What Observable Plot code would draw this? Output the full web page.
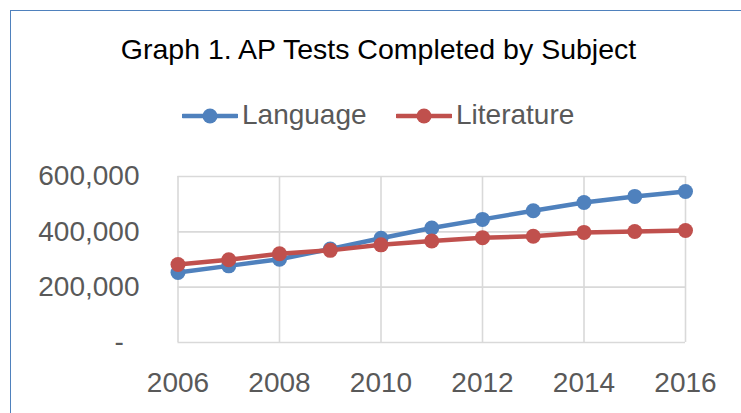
<!DOCTYPE html>
<html>
<head>
<meta charset="utf-8">
<script src="https://cdn.jsdelivr.net/npm/d3@7"></script>
<script src="https://cdn.jsdelivr.net/npm/@observablehq/plot@0.6"></script>
<style>
  html, body { margin: 0; padding: 0; background: #fff; }
  body { width: 741px; height: 413px; position: relative; overflow: hidden; font-family: "Liberation Sans", Arial, sans-serif; }
  #frame { position: absolute; left: 10px; top: 10px; width: 900px; height: 600px; border: 1.5px solid #4f81bd; box-sizing: border-box; }
  #title { position: absolute; left: 0; width: 757px; top: 35.2px; text-align: center; font-size: 28.5px; line-height: 28.5px; color: #000; white-space: nowrap; }
  .leg { position: absolute; font-size: 28px; line-height: 28px; color: #595959; white-space: nowrap; }
  .mk { position: absolute; }
  #chart { position: absolute; left: 0; top: 140px; }
</style>
</head>
<body>
<div id="frame"></div>
<div id="title">Graph 1. AP Tests Completed by Subject</div>
<div id="legend"></div>
<div id="chart"></div>
<script>
const years = [2006, 2007, 2008, 2009, 2010, 2011, 2012, 2013, 2014, 2015, 2016];
const language = [253000, 277000, 301000, 338000, 377000, 414000, 445000, 476000, 506000, 528000, 546000];
const literature = [282000, 299000, 321000, 333000, 353000, 367000, 379000, 384000, 398000, 401000, 405000];
const seriesNames = ["Language", "Literature"];
const seriesColors = ["#4f81bd", "#c0504d"];
const xTicks = [2006, 2008, 2010, 2012, 2014, 2016];
const yTicks = [0, 200000, 400000, 600000];

const rows = [];
years.forEach((y, i) => {
  rows.push({year: y, value: language[i], series: seriesNames[0]});
});
years.forEach((y, i) => {
  rows.push({year: y, value: literature[i], series: seriesNames[1]});
});
const lang = rows.filter(d => d.series === seriesNames[0]);
const lit = rows.filter(d => d.series === seriesNames[1]);

// Legend (HTML, above the plot)
const legend = document.getElementById("legend");
const legPos = [{m: 182, t: 242}, {m: 396, t: 456}];
seriesNames.forEach((name, i) => {
  const svgNS = "http://www.w3.org/2000/svg";
  const s = document.createElementNS(svgNS, "svg");
  s.setAttribute("class", "mk");
  s.setAttribute("width", 56);
  s.setAttribute("height", 20);
  s.style.left = legPos[i].m + "px";
  s.style.top = "105.5px";
  const ln = document.createElementNS(svgNS, "line");
  ln.setAttribute("x1", 1); ln.setAttribute("x2", 55);
  ln.setAttribute("y1", 10); ln.setAttribute("y2", 10);
  ln.setAttribute("stroke", seriesColors[i]); ln.setAttribute("stroke-width", 4.5);
  ln.setAttribute("stroke-linecap", "round");
  const c = document.createElementNS(svgNS, "circle");
  c.setAttribute("cx", 28); c.setAttribute("cy", 10); c.setAttribute("r", 7.5);
  c.setAttribute("fill", seriesColors[i]);
  s.appendChild(ln); s.appendChild(c);
  legend.appendChild(s);
  const t = document.createElement("div");
  t.className = "leg";
  t.textContent = name;
  t.style.left = legPos[i].t + "px";
  t.style.top = "100.5px";
  legend.appendChild(t);
});

const fmt = d3.format(",");
const chart = Plot.plot({
  width: 741,
  height: 273,
  marginTop: 36,
  marginBottom: 71,
  marginLeft: 177.5,
  marginRight: 56,
  style: {fontFamily: "Liberation Sans, Arial, sans-serif", fontSize: "28px", color: "#595959", background: "transparent", overflow: "visible"},
  x: {domain: [2006, 2016]},
  y: {domain: [0, 600000]},
  marks: [
    Plot.gridY(yTicks, {stroke: "#d9d9d9", strokeOpacity: 1, strokeWidth: 1.6}),
    Plot.gridX(xTicks, {stroke: "#d9d9d9", strokeOpacity: 1, strokeWidth: 1.6}),
    Plot.axisX(xTicks, {tickSize: 0, tickPadding: 30, tickFormat: d => String(d), label: null, fontSize: 28, fill: "#595959"}),
    Plot.axisY(yTicks, {tickSize: 0, tickPadding: 38.5, tickFormat: d => d === 0 ? "-\u00a0\u00a0" : fmt(d), label: null, fontSize: 28, fill: "#595959"}),
    Plot.line(lang, {x: "year", y: "value", stroke: seriesColors[0], strokeWidth: 4.5}),
    Plot.dot(lang, {x: "year", y: "value", r: 7.5, fill: seriesColors[0], stroke: null}),
    Plot.line(lit, {x: "year", y: "value", stroke: seriesColors[1], strokeWidth: 4.5}),
    Plot.dot(lit, {x: "year", y: "value", r: 7.5, fill: seriesColors[1], stroke: null})
  ]
});
document.getElementById("chart").appendChild(chart);
</script>
</body>
</html>
